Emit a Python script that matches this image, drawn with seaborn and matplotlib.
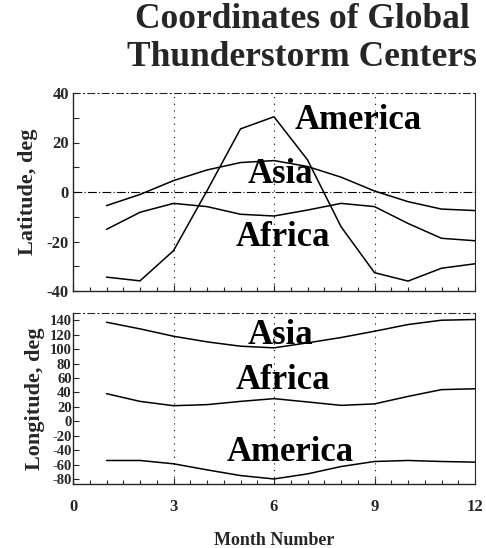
import numpy as np
import pandas as pd
import matplotlib
matplotlib.use("Agg")
import matplotlib.pyplot as plt
import seaborn as sns

months = [1, 2, 3, 4, 5, 6, 7, 8, 9, 10, 11, 12]
lat_america = [-34.4, -35.9, -23.7, 0.5, 25.5, 30.4, 13.0, -14.0, -32.6, -36.0, -30.8, -29.0]
lat_asia = [-5.5, -1.0, 4.6, 8.9, 11.9, 12.7, 10.3, 6.0, 0.4, -3.9, -6.9, -7.5]
lat_africa = [-15.1, -8.2, -4.6, -5.9, -9.0, -9.7, -7.3, -4.6, -5.9, -12.7, -18.7, -19.7]
lon_asia = [137.2, 128.0, 117.8, 110.0, 104.0, 101.7, 108.6, 116.0, 124.7, 134.0, 140.0, 141.0]
lon_africa = [38.2, 27.5, 21.5, 23.0, 27.5, 31.3, 26.7, 22.0, 24.0, 34.4, 43.8, 45.0]
lon_america = [-54.4, -54.4, -59.0, -67.4, -75.3, -80.0, -73.0, -62.8, -55.8, -54.4, -55.8, -56.7]
regions = ["America", "Asia", "Africa"]
lat_ticks = [-40, -20, 0, 20, 40]
lon_ticks = list(range(-80, 141, 20))
x_ticks = [0, 3, 6, 9, 12]

sns.set_theme(style="ticks")
plt.rcParams['font.family'] = ['Liberation Serif', 'DejaVu Serif']
plt.rcParams['font.weight'] = 'bold'
plt.rcParams['axes.unicode_minus'] = False

W, H = 486, 548
fig = plt.figure(figsize=(W / 100, H / 100), dpi=100)

def rect(l, t, r, b):
    return [l / W, 1 - b / H, (r - l) / W, (b - t) / H]

ax1 = fig.add_axes(rect(73, 93, 475, 291))
ax2 = fig.add_axes(rect(73, 313, 475, 484))

lat_df = pd.DataFrame({"month": months * 3,
                       "value": lat_america + lat_asia + lat_africa,
                       "region": sum([[r] * 12 for r in regions], [])})
lon_df = pd.DataFrame({"month": months * 3,
                       "value": lon_america + lon_asia + lon_africa,
                       "region": sum([[r] * 12 for r in regions], [])})

pal = {r: "black" for r in regions}
sns.lineplot(data=lat_df, x="month", y="value", hue="region", palette=pal,
             ax=ax1, legend=False, linewidth=1.1)
sns.lineplot(data=lon_df, x="month", y="value", hue="region", palette=pal,
             ax=ax2, legend=False, linewidth=1.1)

ax1.set_xlim(0, 12)
ax1.set_ylim(-40, 40)
ax2.set_xlim(0, 12)
ax2.set_ylim(-87, 150)

ax1.axhline(0, color="black", lw=0.8, ls=(0, (8, 2, 1, 2)))
for ax in (ax1, ax2):
    for xv in [3, 6, 9]:
        ax.axvline(xv, color="black", lw=0.8, ls=(0, (1, 5)))
    ax.spines['top'].set_linestyle((0, (6, 3, 1, 3)))
    ax.spines['top'].set_linewidth(0.8)
    ax.spines['right'].set_linewidth(0.8)
    ax.spines['left'].set_linewidth(1.0)
    ax.spines['bottom'].set_linewidth(1.0)
    ax.set_xticks(x_ticks)
    ax.set_xticks(np.arange(0, 12.01, 0.5), minor=True)
    ax.tick_params(axis='both', which='both', direction='in', length=4, width=0.8,
                   labelsize=12, pad=3)
    ax.tick_params(axis='x', which='minor', length=3)
    ax.set_xlabel("")

ax1.set_yticks(lat_ticks)
ax1.set_yticks(np.arange(-40, 41, 10), minor=True)
ax1.tick_params(axis='x', labelbottom=False)
ax1.set_ylabel("Latitude, deg", fontsize=16, fontweight='bold', labelpad=6)

ax2.set_yticks(lon_ticks)
ax2.set_yticklabels([str(t) for t in lon_ticks], fontsize=10.5, fontweight='bold')
ax2.tick_params(axis='y', pad=1)
ax2.set_ylabel("Longitude, deg", fontsize=16, fontweight='bold', labelpad=3)
ax2.set_xlabel("Month Number", fontsize=13, fontweight='bold', labelpad=12)
ax2.tick_params(axis='x', pad=11)

lab = dict(fontsize=25, fontweight='bold', ha='center', va='center', color='black')
ax1.text(8.5, 29, "America", **lab)
ax1.text(6.2, 7, "Asia", **lab)
ax1.text(6.27, -18.4, "Africa", **lab)
ax2.text(6.2, 119, "Asia", **lab)
ax2.text(6.27, 56, "Africa", **lab)
ax2.text(6.48, -43, "America", **lab)

fig.text(302 / W, 1 - 20 / H, "Coordinates of Global", fontsize=25.5, fontweight='bold',
         ha='center', va='center')
fig.text(302 / W, 1 - 58 / H, "Thunderstorm Centers", fontsize=25.5, fontweight='bold',
         ha='center', va='center')

fig.savefig("out.png", dpi=100)
